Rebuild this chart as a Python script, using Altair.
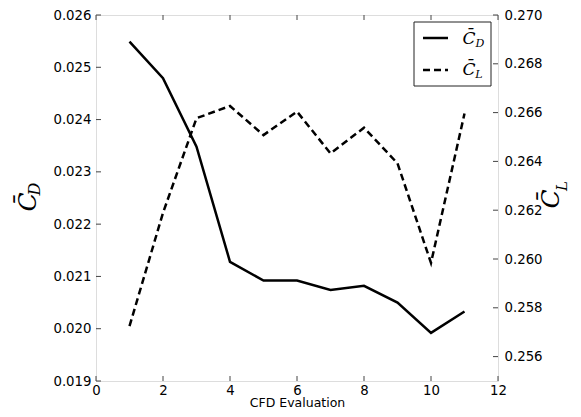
import altair as alt
import pandas as pd

# ---- data ----
evals = [1, 2, 3, 4, 5, 6, 7, 8, 9, 10, 11]
cd_vals = [0.02549, 0.02479, 0.02348, 0.02128, 0.02092, 0.02092, 0.02074, 0.02082, 0.02050, 0.01992, 0.02033]
cl_vals = [0.25725, 0.26189, 0.26577, 0.26627, 0.26508, 0.26604, 0.26433, 0.26538, 0.26392, 0.25984, 0.26596]

x_ticks = [0, 2, 4, 6, 8, 10, 12]
cd_ticks = [0.019, 0.020, 0.021, 0.022, 0.023, 0.024, 0.025, 0.026]
cl_ticks = [0.256, 0.258, 0.260, 0.262, 0.264, 0.266, 0.268, 0.270]

W, H = 402, 366
AX = "#444444"
FONT = "DejaVu Sans"
SERIF = "DejaVu Serif"

df = pd.DataFrame({"x": evals, "cd": cd_vals, "cl": cl_vals})
xt = pd.DataFrame({"x": x_ticks})
cdt = pd.DataFrame({"cd": cd_ticks})
clt = pd.DataFrame({"cl": cl_ticks})
one = pd.DataFrame({"k": [0]})

xscale = alt.Scale(domain=[0, 12], nice=False, zero=False)
cdscale = alt.Scale(domain=[0.019, 0.026], nice=False, zero=False)
clscale = alt.Scale(domain=[0.255, 0.270], nice=False, zero=False)

xaxis = alt.Axis(values=x_ticks, title="CFD Evaluation", ticks=False,
                 domain=False, grid=False, labelPadding=2,
                 titleBaseline="alphabetic", titleY=25,
                 labelFontSize=13.3, titleFontSize=12.5, labelFont=FONT,
                 titleFont=FONT, labelColor="black", titleColor="black",
                 titleFontWeight="normal", labelFlush=False)
cdaxis = alt.Axis(values=cd_ticks, format=".3f", orient="left", title=None,
                  ticks=False, domain=False, grid=False, labelPadding=5,
                  labelFontSize=13.3, labelFont=FONT, labelColor="black",
                  labelFlush=False)
claxis = alt.Axis(values=cl_ticks, format=".3f", orient="right", title=None,
                  ticks=False, domain=False, grid=False, labelPadding=6,
                  labelFontSize=13.3, labelFont=FONT, labelColor="black",
                  labelFlush=False)

cd_line = alt.Chart(df).mark_line(color="black", strokeWidth=2.5).encode(
    x=alt.X("x:Q", scale=xscale, axis=xaxis),
    y=alt.Y("cd:Q", scale=cdscale, axis=cdaxis),
)
cd_tk = alt.Chart(cdt).mark_rule(color=AX, strokeWidth=1).encode(
    y=alt.Y("cd:Q", scale=cdscale, axis=cdaxis), x=alt.value(0), x2=alt.value(5))

cl_line = alt.Chart(df).mark_line(color="black", strokeWidth=2.5, strokeDash=[7, 4]).encode(
    x=alt.X("x:Q", scale=xscale, axis=xaxis),
    y=alt.Y("cl:Q", scale=clscale, axis=claxis),
)
cl_tk = alt.Chart(clt).mark_rule(color=AX, strokeWidth=1).encode(
    y=alt.Y("cl:Q", scale=clscale, axis=claxis), x=alt.value(W), x2=alt.value(W - 5))

xb = alt.Chart(xt).mark_rule(color=AX, strokeWidth=1).encode(
    x=alt.X("x:Q", scale=xscale, axis=xaxis), y=alt.value(H), y2=alt.value(H - 5))
xtp = alt.Chart(xt).mark_rule(color=AX, strokeWidth=1).encode(
    x=alt.X("x:Q", scale=xscale, axis=xaxis), y=alt.value(0), y2=alt.value(5))


def txt(s, x, y, size, angle=0):
    return alt.Chart(one).mark_text(text=s, font=SERIF, fontStyle="italic",
                                    fontSize=size, angle=angle, color="black",
                                    align="center", baseline="middle").encode(
        x=alt.value(x), y=alt.value(y))


# axis titles
titles = [
    txt("C\u0304", -68, 187, 25, 270),
    txt("D", -61, 174, 16, 270),
    txt("C\u0304", 455, 184, 25, 270),
    txt("L", 466, 171, 15, 270),
]

# legend
box = alt.Chart(one).mark_rect(fill="white", stroke="#222222", strokeWidth=1).encode(
    x=alt.value(318), x2=alt.value(395), y=alt.value(7), y2=alt.value(71))
leg1 = alt.Chart(one).mark_rule(color="black", strokeWidth=2.5).encode(
    x=alt.value(327), x2=alt.value(352), y=alt.value(23))
leg2 = alt.Chart(one).mark_rule(color="black", strokeWidth=2.5, strokeDash=[7, 4]).encode(
    x=alt.value(327), x2=alt.value(352), y=alt.value(55))
legtxt = [
    txt("C\u0304", 373, 24, 17),
    txt("D", 384, 29, 11),
    txt("C\u0304", 373, 55, 17),
    txt("L", 383, 60, 11),
]

left = alt.layer(cd_line, cd_tk, xb, xtp)
right = alt.layer(cl_line, cl_tk)
chart = alt.layer(left, right, box, leg1, leg2, *legtxt, *titles).resolve_scale(
    y="independent"
).properties(
    width=W, height=H,
    autosize=alt.AutoSizeParams(type="none"),
    padding={"left": 88, "top": 7, "right": 75, "bottom": 28},
).configure_view(stroke=AX, strokeWidth=1).configure(background="white")

chart.save("out.html", embed_options={"renderer": "svg", "actions": False})
